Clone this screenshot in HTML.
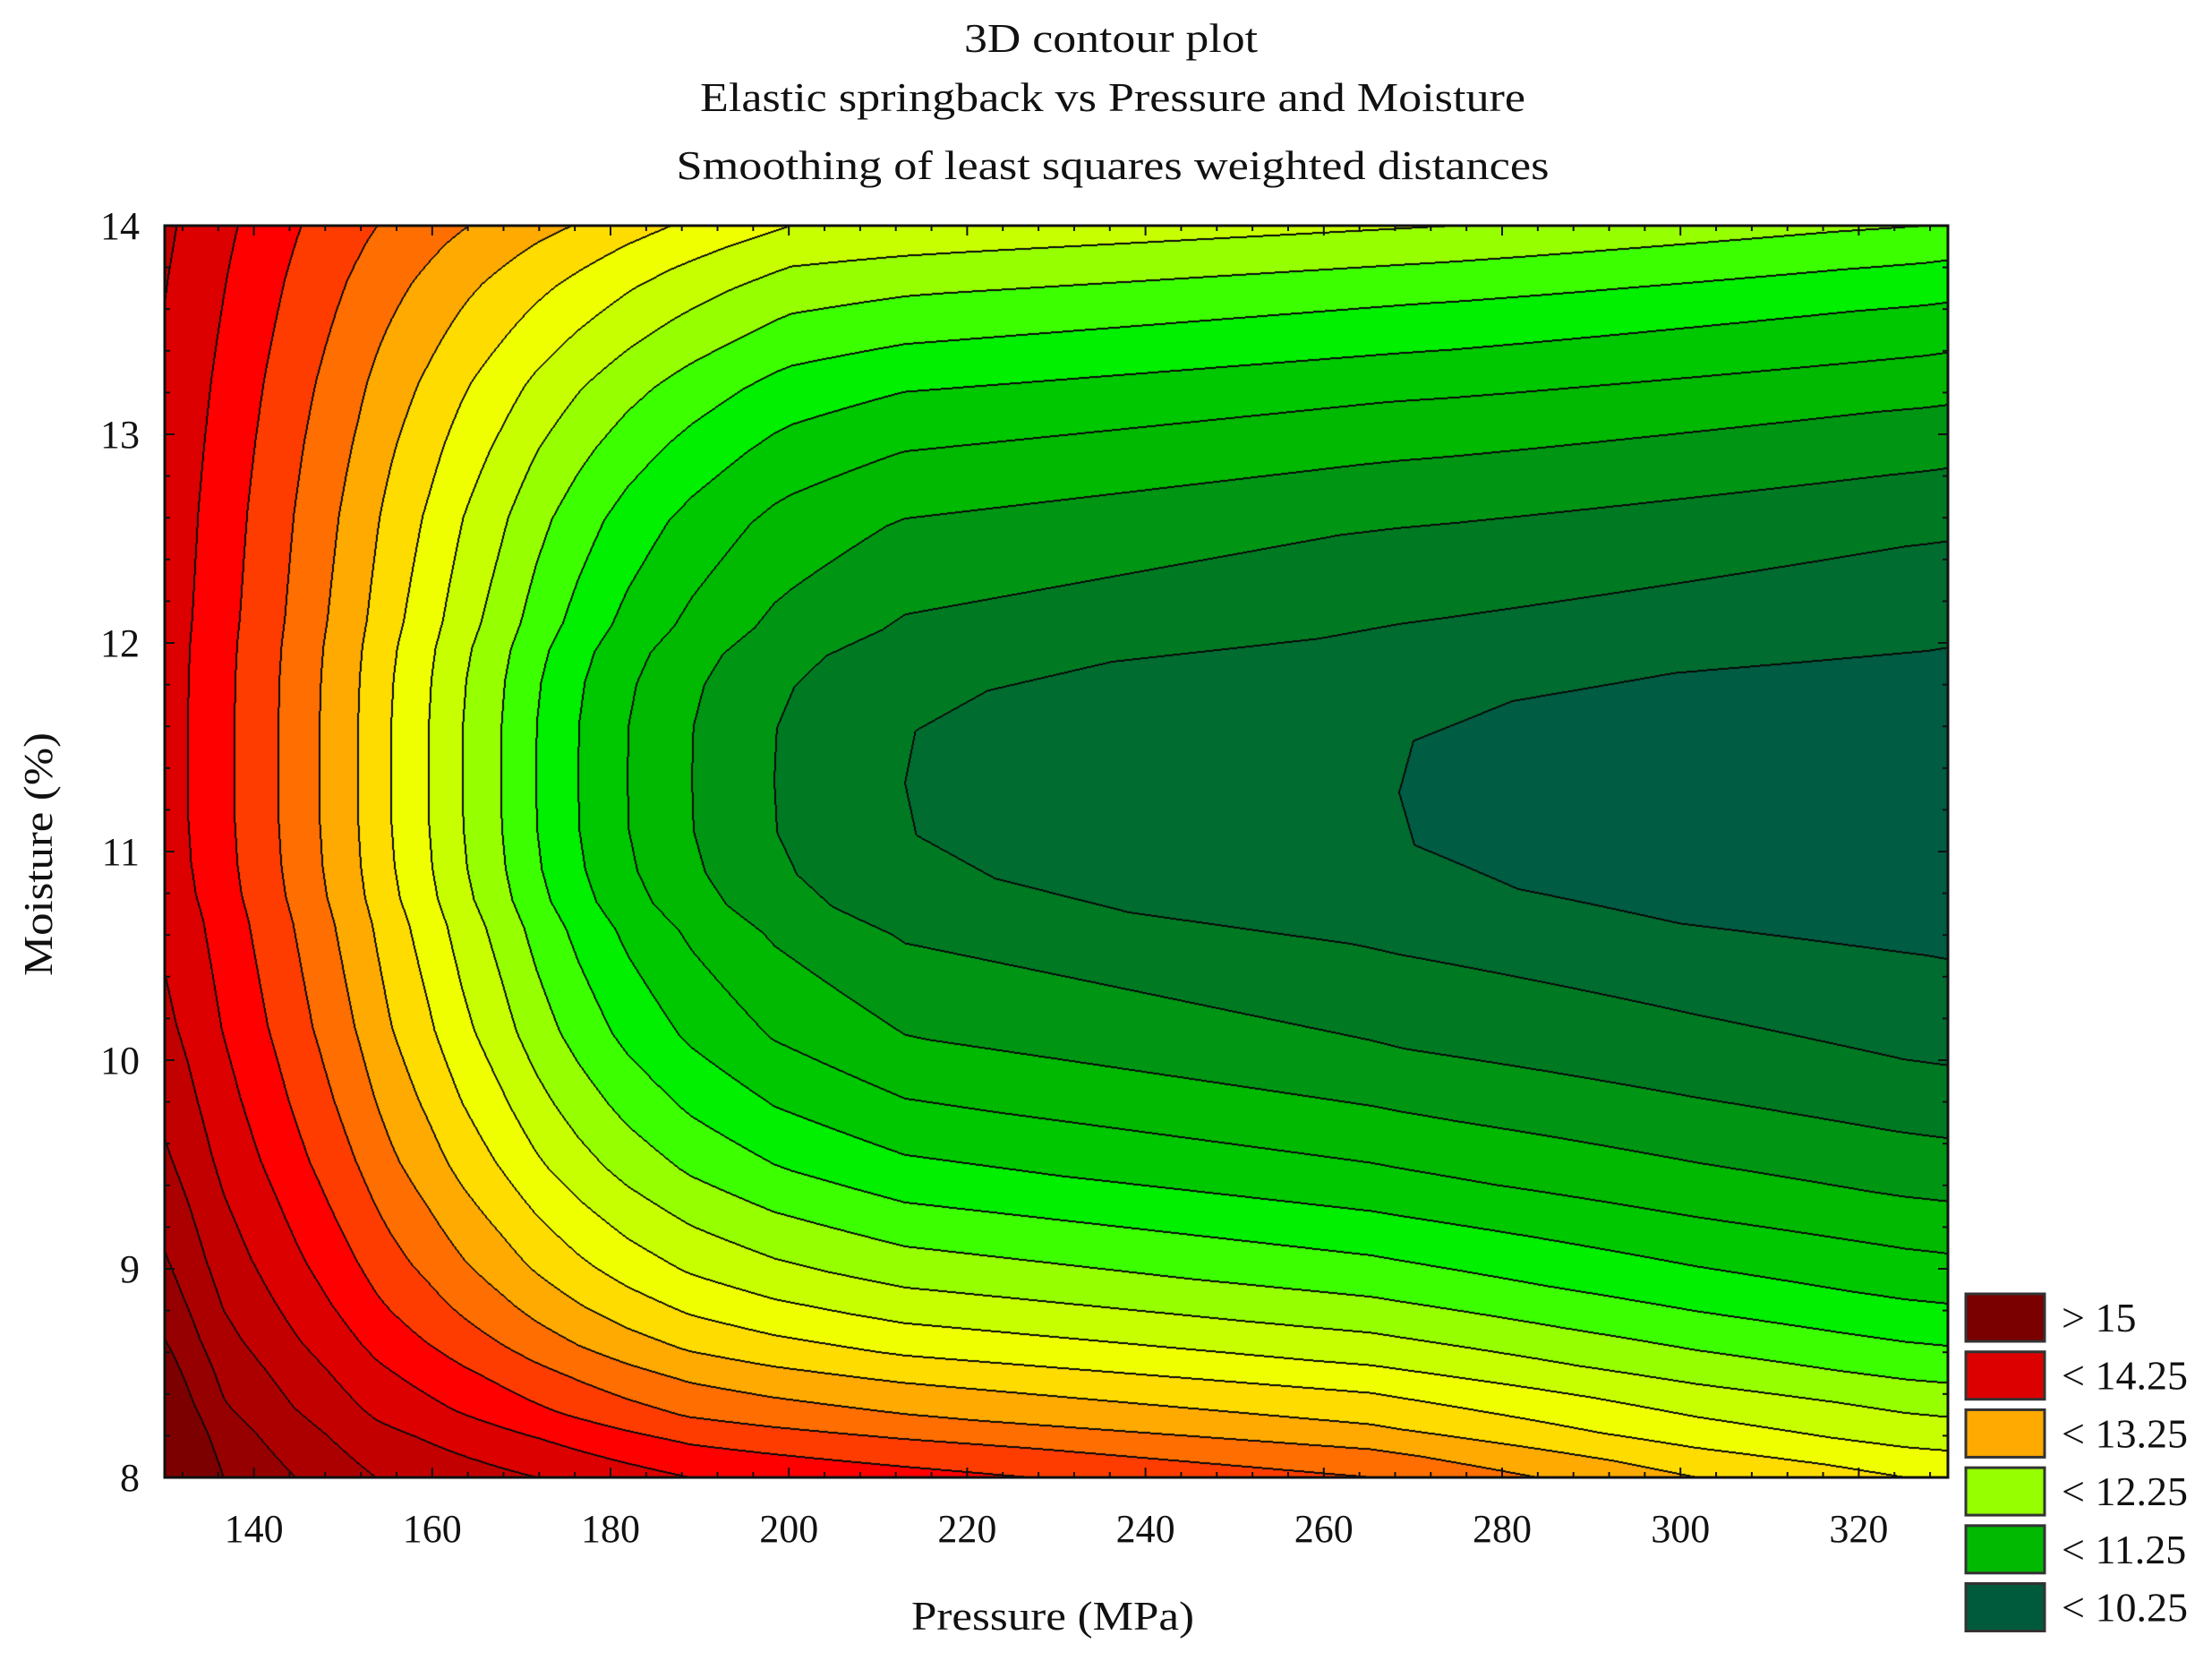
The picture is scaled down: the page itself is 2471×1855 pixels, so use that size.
<!DOCTYPE html>
<html><head><meta charset="utf-8"><style>
html,body{margin:0;padding:0;background:#fff;}
#wrap{position:relative;width:2471px;height:1855px;overflow:hidden;background:#fff;}
#cv{position:absolute;left:184px;top:252px;}
svg{position:absolute;left:0;top:0;}
text{font-family:"Liberation Serif",serif;fill:#111;}
</style></head><body>
<div id="wrap">
<canvas id="cv" width="1992" height="1398"></canvas>
<svg id="sv" width="2471" height="1855" xmlns="http://www.w3.org/2000/svg">
<text x="1241" y="58" font-size="46" text-anchor="middle" textLength="328" lengthAdjust="spacingAndGlyphs">3D contour plot</text>
<text x="1243" y="124" font-size="46" text-anchor="middle" textLength="922" lengthAdjust="spacingAndGlyphs">Elastic springback vs Pressure and Moisture</text>
<text x="1243" y="200" font-size="46" text-anchor="middle" textLength="975" lengthAdjust="spacingAndGlyphs">Smoothing of least squares weighted distances</text>
<text x="1176" y="1820" font-size="46" text-anchor="middle" textLength="316" lengthAdjust="spacingAndGlyphs">Pressure (MPa)</text>
<text x="0" y="0" font-size="46" text-anchor="middle" textLength="272" lengthAdjust="spacingAndGlyphs" transform="translate(58,954) rotate(-90)">Moisture (%)</text>
<g id="ticks"></g>
<g id="legend"></g>
</svg>
</div>
<script>
(function(){
var L=184,R=2176,T=252,B=1650;
function interp(tab,x){if(x<=tab[0][0])return tab[0][1];for(var i=1;i<tab.length;i++){if(x<=tab[i][0]){var a=tab[i-1],b=tab[i];return a[1]+(b[1]-a[1])*(x-a[0])/(b[0]-a[0]);}}return tab[tab.length-1][1];}
var FM=[[184,14.1],[210,14.0],[262,13.75],[311,13.5],[357,13.25],[400,13.0],[437,12.75],[479,12.5],[517,12.25],[560,12.0],[599,11.75],[646,11.5],[701,11.25],[773,11.0],[865,10.75],[1011,10.5],[1563,10.25],[2176,10.05]];
var TT=[[184,14.3],[266,14.0],[337,13.75],[422,13.5],[524,13.25],[639,13.0],[750,12.75],[884,12.5],[1623,12.25],[2150,12.0],[2176,11.98]];
var BB=[[184,15.5],[250,15.0],[330,14.75],[420,14.5],[600,14.25],[770,14.0],[1150,13.75],[1532,13.5],[1717,13.25],[1895,13.0],[2128,12.75],[2176,12.72]];
var PD=[[0,0],[0.25,0.005],[0.45,0.04],[0.6,0.1],[0.73,0.2],[1.23,0.45],[1.57,0.7],[1.87,0.95],[2.11,1.2],[2.35,1.45],[2.55,1.7],[2.73,1.95],[2.88,2.2],[3.05,2.45],[3.18,2.7],[3.5,3.2]];
var cols=[[0,92,66],[0,108,48],[0,122,34],[0,150,20],[0,185,0],[0,200,0],[0,240,0],[60,255,0],[150,255,0],[200,255,0],[240,255,0],[255,220,0],[255,170,0],[255,110,0],[255,60,0],[255,0,0],[220,0,0],[195,0,0],[172,0,0],[150,0,0],[125,0,0]];
var W=R-L,H=B-T;
var cv=document.getElementById('cv');cv.width=W;cv.height=H;
var ctx=cv.getContext('2d');var img=ctx.createImageData(W,H);var d=img.data;
var band=new Int8Array(W*H);
for(var i=0;i<W;i++){
  var x=L+i+0.5;var fm=interp(FM,x),tv=interp(TT,x),bv=interp(BB,x);
  var M0=11.4-0.17*(x-L)/W;
  var pu=interp(PD,14-M0),pb=interp(PD,M0-8);
  for(var j=0;j<H;j++){
    var M=14-(j+0.5)/H*6;var f;
    if(M>=M0){f=fm+(tv-fm)*interp(PD,M-M0)/pu;}else{f=fm+(bv-fm)*interp(PD,M0-M)/pb;}
    var k=Math.floor((f-10.25)/0.25)+1;if(k<0)k=0;if(k>20)k=20;
    band[j*W+i]=k;
  }
}
for(var j=0;j<H;j++)for(var i=0;i<W;i++){
  var idx=j*W+i,k=band[idx];var c=cols[k];var line=false;
  if(i+1<W&&band[idx+1]!=k)line=true;
  else if(i>0&&band[idx-1]!=k)line=true;
  else if(j+1<H&&band[idx+W]!=k)line=true;
  else if(j>0&&band[idx-W]!=k)line=true;
  var p=idx*4;
  if(line){d[p]=10;d[p+1]=10;d[p+2]=10;}else{d[p]=c[0];d[p+1]=c[1];d[p+2]=c[2];}
  d[p+3]=255;
}
ctx.putImageData(img,0,0);
var g=document.getElementById('ticks');var s='';
s+='<rect x="'+L+'" y="'+T+'" width="'+W+'" height="'+H+'" fill="none" stroke="#111" stroke-width="3"/>';
var ppm=(R-L)/200;
for(var P=132;P<=330;P+=4){var x=L+(P-130)*ppm;var maj=(P%20==0);var len=maj?11:6;
  s+='<line x1="'+x+'" y1="'+B+'" x2="'+x+'" y2="'+(B-len)+'" stroke="#111" stroke-width="2"/>';
  s+='<line x1="'+x+'" y1="'+T+'" x2="'+x+'" y2="'+(T+len)+'" stroke="#111" stroke-width="2"/>';
  if(maj&&P>=140)s+='<text x="'+x+'" y="1722" font-size="44" text-anchor="middle">'+P+'</text>';
}
for(var m=0;m<=30;m++){var y=B-m*H/30;var maj=(m%5==0);var len=maj?11:6;
  s+='<line x1="'+L+'" y1="'+y+'" x2="'+(L+len)+'" y2="'+y+'" stroke="#111" stroke-width="2"/>';
  s+='<line x1="'+R+'" y1="'+y+'" x2="'+(R-len)+'" y2="'+y+'" stroke="#111" stroke-width="2"/>';
  if(maj)s+='<text x="156" y="'+(y+15)+'" font-size="44" text-anchor="end">'+(8+m/5)+'</text>';
}
g.innerHTML=s;
var lg=document.getElementById('legend');var t='';
var items=[['> 15','#7a0000'],['< 14.25','#dc0000'],['< 13.25','#ffaa00'],['< 12.25','#96ff00'],['< 11.25','#00b900'],['< 10.25','#005a3c']];
for(var n=0;n<6;n++){var y=1445+n*64.7;
  t+='<rect x="2196" y="'+y+'" width="88" height="53" fill="'+items[n][1]+'" stroke="#333" stroke-width="3"/>';
  t+='<text x="2303" y="'+(y+42)+'" font-size="46">'+items[n][0]+'</text>';
}
lg.innerHTML=t;
})();
</script>
</body></html>
